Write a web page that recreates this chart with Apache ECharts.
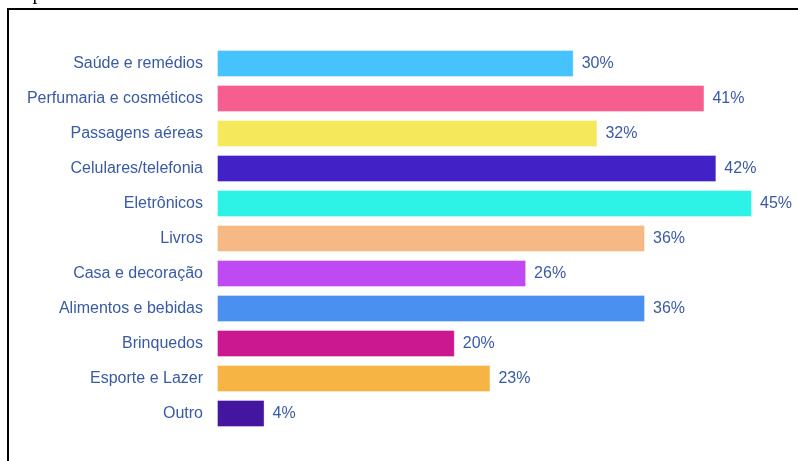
<!DOCTYPE html>
<html>
<head>
<meta charset="utf-8">
<script src="https://cdn.jsdelivr.net/npm/echarts@6/dist/echarts.min.js"></script>
<style>
  html, body { margin: 0; padding: 0; background: #ffffff; }
  #chart { width: 798px; height: 461px; }
</style>
</head>
<body>
<div id="chart"></div>
<script>
// Categories, top to bottom
const categories = [
  'Saúde e remédios',
  'Perfumaria e cosméticos',
  'Passagens aéreas',
  'Celulares/telefonia',
  'Eletrônicos',
  'Livros',
  'Casa e decoração',
  'Alimentos e bebidas',
  'Brinquedos',
  'Esporte e Lazer',
  'Outro'
];
// Share of respondents (%)
const values = [30, 41, 32, 42, 45, 36, 26, 36, 20, 23, 4];
const barColors = [
  '#46c3fc', '#f65e8f', '#f5e85a', '#4222c6', '#2cf3e6', '#f6b885',
  '#c04af2', '#4a90f0', '#cb1790', '#f6b444', '#4416a0'
];

const textBlue = '#3a5aa3';

const chart = echarts.init(document.getElementById('chart'), null, { renderer: 'canvas' });

chart.setOption({
  animation: false,
  grid: { left: 217, top: 46, width: 535, height: 385, containLabel: false },
  xAxis: {
    type: 'value', min: 0, max: 45, show: false
  },
  yAxis: {
    type: 'category',
    data: categories,
    inverse: true,
    axisLine: { show: false },
    axisTick: { show: false },
    axisLabel: {
      color: textBlue,
      fontFamily: 'Liberation Sans, Arial, sans-serif',
      fontSize: 16,
      margin: 14
    }
  },
  series: [{
    type: 'bar',
    data: values.map((v, i) => ({
      value: v,
      itemStyle: { color: barColors[i] }
    })),
    barWidth: 27,
    itemStyle: { borderColor: 'rgba(255,255,255,0.35)', borderWidth: 1 },
    label: {
      show: true,
      position: 'right',
      distance: 8,
      formatter: '{c}%',
      color: textBlue,
      fontFamily: 'Liberation Sans, Arial, sans-serif',
      fontSize: 16
    }
  }],
  graphic: [
    {
      type: 'rect',
      shape: { x: 8, y: 9, width: 820, height: 480 },
      style: { fill: 'none', stroke: '#000000', lineWidth: 2 },
      silent: true
    },
    {
      type: 'text',
      x: -2,
      y: 4,
      style: {
        text: 'compras',
        font: '20px "Liberation Serif", "Times New Roman", serif',
        fill: '#000000',
        textVerticalAlign: 'bottom'
      },
      silent: true
    }
  ]
});
</script>
</body>
</html>
